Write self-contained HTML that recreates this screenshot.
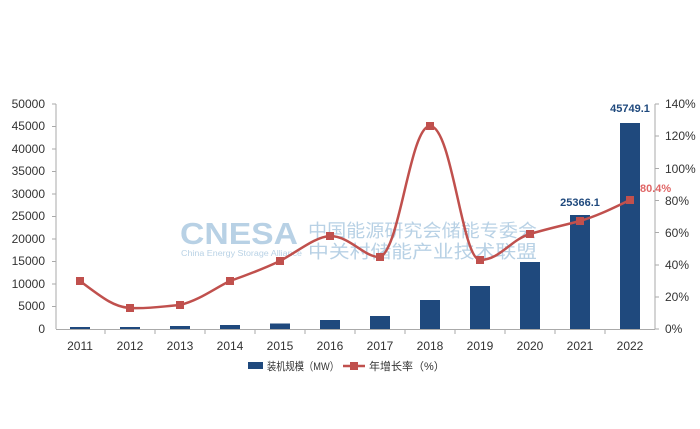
<!DOCTYPE html>
<html><head><meta charset="utf-8"><style>
html,body{margin:0;padding:0;background:#fff;}
svg{display:block;font-family:"Liberation Sans","Noto Sans CJK SC",sans-serif;}
</style></head><body>
<svg width="700" height="429" viewBox="0 0 700 429">
<g font-size="12" fill="#333" text-anchor="end">
<text x="45" y="108">50000</text><text x="45" y="130">45000</text><text x="45" y="153">40000</text>
<text x="45" y="175">35000</text><text x="45" y="198">30000</text><text x="45" y="220">25000</text>
<text x="45" y="243">20000</text><text x="45" y="265">15000</text><text x="45" y="288">10000</text>
<text x="45" y="310">5000</text><text x="45" y="333">0</text>
</g>
<g stroke="#aaa" stroke-width="1">
<line x1="56" y1="104" x2="56" y2="329"/>
<line x1="655" y1="104" x2="655" y2="329"/>
<line x1="56" y1="329.5" x2="655" y2="329.5"/>
<line x1="52" y1="104" x2="56" y2="104"/><line x1="52" y1="126.5" x2="56" y2="126.5"/><line x1="52" y1="149" x2="56" y2="149"/><line x1="52" y1="171.5" x2="56" y2="171.5"/><line x1="52" y1="194" x2="56" y2="194"/><line x1="52" y1="216.5" x2="56" y2="216.5"/><line x1="52" y1="239" x2="56" y2="239"/><line x1="52" y1="261.5" x2="56" y2="261.5"/><line x1="52" y1="284" x2="56" y2="284"/><line x1="52" y1="306.5" x2="56" y2="306.5"/>
<line x1="655" y1="104" x2="659" y2="104"/><line x1="655" y1="136" x2="659" y2="136"/><line x1="655" y1="168.5" x2="659" y2="168.5"/><line x1="655" y1="200.5" x2="659" y2="200.5"/><line x1="655" y1="232.5" x2="659" y2="232.5"/><line x1="655" y1="265" x2="659" y2="265"/><line x1="655" y1="297" x2="659" y2="297"/><line x1="655" y1="329" x2="659" y2="329"/>
<line x1="105" y1="329" x2="105" y2="334"/><line x1="155" y1="329" x2="155" y2="334"/><line x1="205" y1="329" x2="205" y2="334"/><line x1="255" y1="329" x2="255" y2="334"/><line x1="305" y1="329" x2="305" y2="334"/><line x1="355" y1="329" x2="355" y2="334"/><line x1="405" y1="329" x2="405" y2="334"/><line x1="455" y1="329" x2="455" y2="334"/><line x1="505" y1="329" x2="505" y2="334"/><line x1="555" y1="329" x2="555" y2="334"/><line x1="605" y1="329" x2="605" y2="334"/>
</g>
<g font-size="12" fill="#333">
<text x="665" y="108">140%</text><text x="665" y="140">120%</text><text x="665" y="173">100%</text>
<text x="665" y="205">80%</text><text x="665" y="237">60%</text><text x="665" y="269">40%</text>
<text x="665" y="301">20%</text><text x="665" y="333">0%</text>
</g>
<g font-size="12" fill="#333" text-anchor="middle">
<text x="80" y="350">2011</text><text x="130" y="350">2012</text><text x="180" y="350">2013</text><text x="230" y="350">2014</text><text x="280" y="350">2015</text><text x="330" y="350">2016</text><text x="380" y="350">2017</text><text x="430" y="350">2018</text><text x="480" y="350">2019</text><text x="530" y="350">2020</text><text x="580" y="350">2021</text><text x="630" y="350">2022</text>
</g>
<g opacity="0.6">
<text x="180" y="244" font-size="31" font-weight="bold" fill="#8ab4d4" textLength="118" lengthAdjust="spacingAndGlyphs">CNESA</text>
<text x="181" y="256" font-size="8" fill="#8ab4d4" textLength="121" lengthAdjust="spacingAndGlyphs">China Energy Storage Alliance</text>
<text x="308" y="237" font-size="18" fill="#8ab4d4" textLength="229" lengthAdjust="spacingAndGlyphs">中国能源研究会储能专委会</text>
<text x="308" y="258" font-size="18" fill="#8ab4d4" textLength="229" lengthAdjust="spacingAndGlyphs">中关村储能产业技术联盟</text>
</g>
<g fill="#1f497d">
<rect x="70" y="327" width="20" height="2"/>
<rect x="120" y="327" width="20" height="2"/>
<rect x="170" y="326" width="20" height="3"/>
<rect x="220" y="325" width="20" height="4"/>
<rect x="270" y="323.5" width="20" height="5.5"/>
<rect x="320" y="320" width="20" height="9"/>
<rect x="370" y="316" width="20" height="13"/>
<rect x="420" y="300" width="20" height="29"/>
<rect x="470" y="286" width="20" height="43"/>
<rect x="520" y="262" width="20" height="67"/>
<rect x="570" y="215" width="20" height="114"/>
<rect x="620" y="123" width="20" height="206"/>
</g>
<path d="M80,281 C105,300 115,307 130,308 C150,309 165,306 180,305 C200,300 215,288 230,281 C250,274 265,268 280,261 C300,250 315,237 330,236 C350,236 365,258 380,257 C400,250 410,126 430,126 C452,126 462,260 480,260 C500,260 510,240 530,234 C550,228 565,225 580,221 C600,215 615,207 630,200" fill="none" stroke="#c0504d" stroke-width="2.5"/>
<g fill="#c0504d">
<rect x="76" y="277" width="8" height="8"/><rect x="126" y="304" width="8" height="8"/><rect x="176" y="301" width="8" height="8"/><rect x="226" y="277" width="8" height="8"/><rect x="276" y="257" width="8" height="8"/><rect x="326" y="232" width="8" height="8"/><rect x="376" y="253" width="8" height="8"/><rect x="426" y="122" width="8" height="8"/><rect x="476" y="256" width="8" height="8"/><rect x="526" y="230" width="8" height="8"/><rect x="576" y="217" width="8" height="8"/><rect x="626" y="196" width="8" height="8"/>
</g>
<text x="580" y="206" font-size="11" font-weight="bold" fill="#1f497d" text-anchor="middle">25366.1</text>
<text x="630" y="112" font-size="11" font-weight="bold" fill="#1f497d" text-anchor="middle">45749.1</text>
<text x="640" y="192" font-size="11" font-weight="bold" fill="#e06666">80.4%</text>
<rect x="248" y="362" width="15" height="7" fill="#1f497d"/>
<text x="267" y="370" font-size="11" fill="#333" textLength="72" lengthAdjust="spacingAndGlyphs">装机规模（MW）</text>
<line x1="343" y1="366" x2="365" y2="366" stroke="#c0504d" stroke-width="2.5"/>
<rect x="350" y="362" width="8" height="8" fill="#c0504d"/>
<text x="369" y="370" font-size="11" fill="#333">年增长率（%）</text>
</svg>
</body></html>
